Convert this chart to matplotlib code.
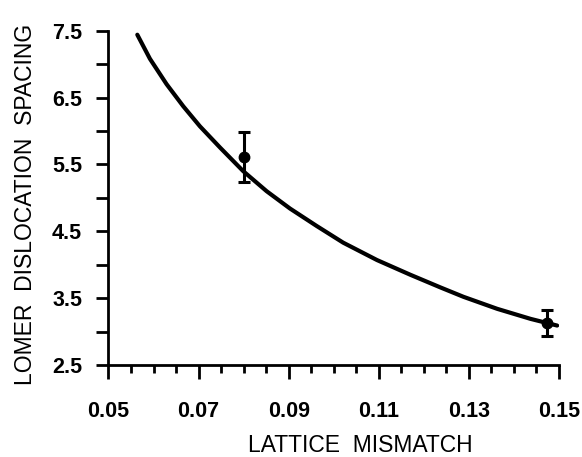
"""Lomer dislocation spacing vs lattice mismatch."""
import matplotlib
matplotlib.use('Agg')
from matplotlib import pyplot as plt
from matplotlib.ticker import MultipleLocator

plt.rcParams['font.family'] = ['Liberation Sans', 'DejaVu Sans']

# curve
curve_x = [0.0564, 0.0592, 0.0629, 0.0666, 0.0703, 0.0748, 0.0799, 0.0851,
           0.0903, 0.0962, 0.1021, 0.1096, 0.1170, 0.1237, 0.1288, 0.1363,
           0.1437, 0.1496]
curve_y = [7.44, 7.08, 6.70, 6.37, 6.07, 5.75, 5.40, 5.10,
           4.84, 4.58, 4.33, 4.07, 3.85, 3.66, 3.52, 3.34,
           3.19, 3.09]

# measured points with error bars
meas_x = [0.080, 0.1474]
meas_y = [5.61, 3.13]
meas_err = [0.38, 0.20]

x_ticks = [0.05, 0.07, 0.09, 0.11, 0.13, 0.15]
x_tick_labels = ['0.05', '0.07', '0.09', '0.11', '0.13', '0.15']
y_ticks = [2.5, 3.5, 4.5, 5.5, 6.5, 7.5]
y_tick_labels = ['2.5', '3.5', '4.5', '5.5', '6.5', '7.5']

fig = plt.figure(figsize=(5.82, 4.57), dpi=100)
ax = fig.add_axes([0.1864, 0.2013, 0.774, 0.7315])

ax.plot(curve_x, curve_y, color='black', lw=3, solid_capstyle='round',
        solid_joinstyle='round')
ax.errorbar(meas_x, meas_y, yerr=meas_err, fmt='o', color='black',
            ms=7.5, elinewidth=2.2, capsize=4.5, capthick=2.2)

ax.set_xlim(0.05, 0.15)
ax.set_ylim(2.5, 7.5)
ax.spines['top'].set_visible(False)
ax.spines['right'].set_visible(False)
ax.spines['left'].set_linewidth(2)
ax.spines['bottom'].set_linewidth(2)

ax.set_xticks(x_ticks)
ax.set_xticklabels(x_tick_labels, fontweight='bold', fontsize=15.5)
ax.xaxis.set_minor_locator(MultipleLocator(0.005))
ax.set_yticks(y_ticks)
ax.set_yticklabels(y_tick_labels, fontweight='bold', fontsize=15.5)
ax.yaxis.set_minor_locator(MultipleLocator(0.5))

ax.tick_params(axis='x', which='major', length=10, width=2, pad=16)
ax.tick_params(axis='x', which='minor', length=6, width=2)
ax.tick_params(axis='y', which='both', length=9, width=2, pad=10)

ax.set_xlabel('LATTICE  MISMATCH', fontsize=16.5, va='center')
ax.xaxis.set_label_coords(0.558, -0.242)
ax.set_ylabel('LOMER  DISLOCATION  SPACING', fontsize=16.5, va='center')
ax.yaxis.set_label_coords(-0.185, 0.48)

plt.savefig('out.png', dpi=100)
